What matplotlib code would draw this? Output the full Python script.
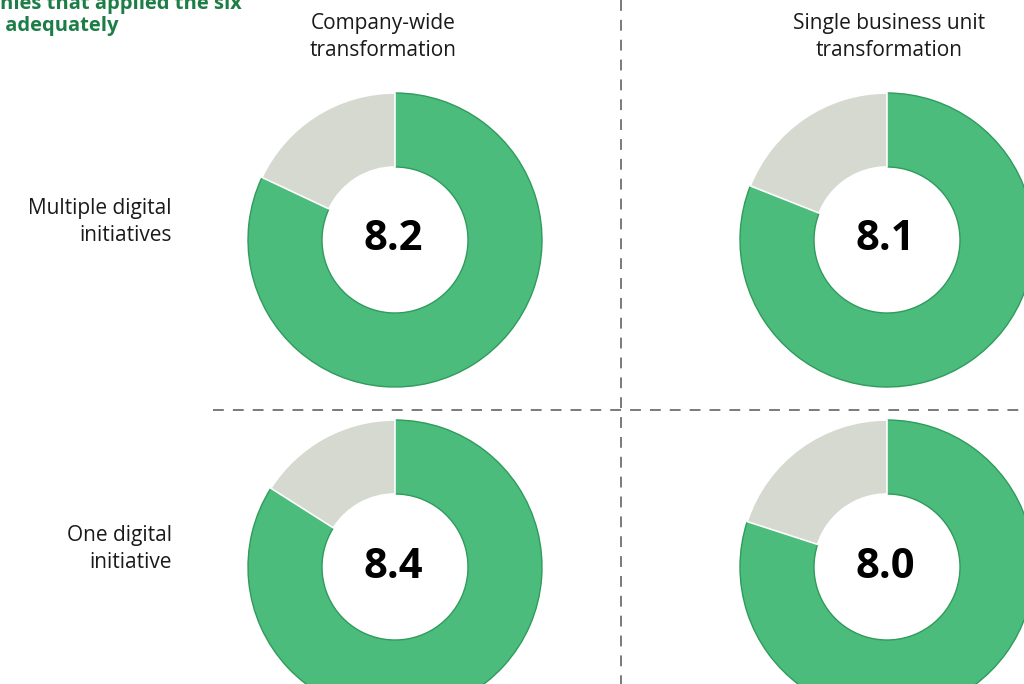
import matplotlib
matplotlib.use("Agg")
import matplotlib.pyplot as plt

plt.rcParams['font.family'] = ['Open Sans', 'DejaVu Sans']

col_labels = ["Company-wide\ntransformation", "Single business unit\ntransformation"]
row_labels = ["Multiple digital\ninitiatives", "One digital\ninitiative"]
scores = [[8.2, 8.1], [8.4, 8.0]]
max_score = 10.0
title_lines = "nies that applied the six\n adequately"

GREEN = "#4cbc7c"
GREEN_EDGE = "#2f9b5c"
GREY = "#d6d9d0"
TITLE_GREEN = "#1d7d47"

W, H = 1024, 684
fig = plt.figure(figsize=(W / 100, H / 100), dpi=100)
ax = fig.add_axes([0, 0, 1, 1])

def Y(py):
    return H - py

col_x = [395, 887]
row_y = [240, 567]
R = 147
ring_w = 74

for i, row in enumerate(scores):
    for j, s in enumerate(row):
        cx, cy = col_x[j], Y(row_y[i])
        wedges, _ = ax.pie([s, max_score - s], colors=[GREEN, GREY], startangle=90,
                           counterclock=False, center=(cx, cy), radius=R,
                           wedgeprops=dict(width=ring_w, linewidth=1.2, edgecolor='white'),
                           frame=True)
        wedges[0].set_edgecolor(GREEN_EDGE)
        wedges[0].set_linewidth(1.0)
        ax.text(cx - 2, cy, f"{s:.1f}", ha='center', va='center', fontsize=30,
                fontweight='bold', color='black')

ax.set_xlim(0, W)
ax.set_ylim(0, H)
ax.set_aspect('equal')
ax.axis('off')

# dividers
ax.plot([621, 621], [Y(0), Y(684)], color='#707070', lw=1.3, ls=(0, (6, 5)))
ax.plot([213, 1024], [Y(410), Y(410)], color='#707070', lw=1.3, ls=(0, (6, 5)))

# headers
for j, lab in enumerate(col_labels):
    ax.text([383, 889][j], Y(37), lab, ha='center', va='center', fontsize=15,
            color='#1a1a1a', linespacing=1.4)
for i, lab in enumerate(row_labels):
    ax.text(172, Y(row_y[i] - 18), lab, ha='right', va='center', fontsize=15,
            color='#1a1a1a', linespacing=1.4)

ax.text(0, Y(15), title_lines, ha='left', va='center', fontsize=14.5,
        fontweight='bold', color=TITLE_GREEN, linespacing=1.1, clip_on=False)

fig.savefig("out.png", dpi=100)
